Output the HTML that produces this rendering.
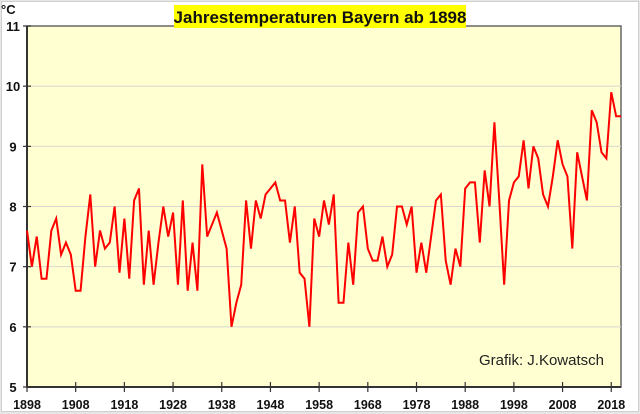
<!DOCTYPE html>
<html><head><meta charset="utf-8"><style>
html,body{margin:0;padding:0;background:#e8e8e8;}
#wrap{position:relative;width:640px;height:414px;overflow:hidden;background:#e6e6e6;}
svg{position:absolute;left:0;top:0;}
text{font-family:"Liberation Sans",sans-serif;}
</style></head><body>
<div id="wrap">
<svg id="chart" width="640" height="414"></svg>
</div>
<script>
const startYear = 1898;
const temps = [7.6,7.0,7.5,6.8,6.8,7.6,7.8,7.2,7.4,7.2,
6.6,6.6,7.5,8.2,7.0,7.6,7.3,7.4,8.0,6.9,
7.8,6.8,8.1,8.3,6.7,7.6,6.7,7.4,8.0,7.5,
7.9,6.7,8.1,6.6,7.4,6.6,8.7,7.5,7.7,7.9,
7.6,7.3,6.0,6.4,6.7,8.1,7.3,8.1,7.8,8.2,
8.3,8.4,8.1,8.1,7.4,8.0,6.9,6.8,6.0,7.8,
7.5,8.1,7.7,8.2,6.4,6.4,7.4,6.7,7.9,8.0,
7.3,7.1,7.1,7.5,7.0,7.2,8.0,8.0,7.7,8.0,
6.9,7.4,6.9,7.5,8.1,8.2,7.1,6.7,7.3,7.0,
8.3,8.4,8.4,7.4,8.6,8.0,9.4,8.1,6.7,8.1,
8.4,8.5,9.1,8.3,9.0,8.8,8.2,8.0,8.5,9.1,
8.7,8.5,7.3,8.9,8.5,8.1,9.6,9.4,8.9,8.8,
9.9,9.5,9.5];
const yTicks = [5,6,7,8,9,10,11];
const xTicks = [1898,1908,1918,1928,1938,1948,1958,1968,1978,1988,1998,2008,2018];

const NS='http://www.w3.org/2000/svg';
const svg=document.getElementById('chart');
const L=27,R=621,T=26,B=387;
const x0=1898, x1=2020;
const xs=y=>L+(y-x0)/(x1-x0)*(R-L);
const ys=v=>B-(v-5)/(11-5)*(B-T);
function mk(tag,attrs,parent){const e=document.createElementNS(NS,tag);for(const k in attrs)e.setAttribute(k,attrs[k]);(parent||svg).appendChild(e);return e;}

const outer=mk('rect',{x:1.5,y:1.5,width:637,height:410,fill:'#ffffff',stroke:'#d0d0d0','stroke-width':1});


const plot=mk('rect',{x:L,y:T,width:R-L,height:B-T,fill:'#ffffd2',stroke:'#666',"stroke-width":1.5});



yTicks.forEach(v=>{
  if(v>5&&v<11){const g=mk('line',{x1:L,x2:R,y1:ys(v),y2:ys(v),stroke:'#d8d8d0','stroke-width':1});
  
  }
  const tk=mk('line',{x1:L-4,x2:L+4,y1:ys(v),y2:ys(v),stroke:'#333','stroke-width':1.2});
  
  
  const t=mk('text',{x:13,y:ys(v)+5,'text-anchor':'middle','font-size':13,'font-weight':'bold',fill:'#111'});
  t.textContent=v;
  
  
});
xTicks.forEach(yr=>{
  const tk=mk('line',{x1:xs(yr),x2:xs(yr),y1:B-5,y2:B+5,stroke:'#333','stroke-width':1.2});
  
  
  const t=mk('text',{x:xs(yr),y:B+22,'text-anchor':'middle','font-size':12.5,'font-weight':'bold',fill:'#111'});
  t.textContent=yr;
  
  
});
const axL=mk('line',{x1:L,x2:L,y1:T,y2:B,stroke:'#333','stroke-width':2});


const axB=mk('line',{x1:L,x2:R,y1:B,y2:B,stroke:'#333','stroke-width':2});



const pts=temps.map((v,i)=>xs(startYear+i).toFixed(2)+','+ys(v).toFixed(2)).join(' ');
const line=mk('polyline',{points:pts,fill:'none',stroke:'#ff0000','stroke-width':2,'stroke-linejoin':'miter'});



const tb=mk('rect',{x:174,y:5,width:292,height:23,fill:'#ffff00'});


const title=mk('text',{x:320,y:23,'text-anchor':'middle','font-size':17,'font-weight':'bold',fill:'#111'});
title.textContent='Jahrestemperaturen Bayern ab 1898';


const unit=mk('text',{x:1,y:14,'font-size':13,'font-weight':'bold',fill:'#111'});
unit.textContent='°C';


const credit=mk('text',{x:604,y:365,'text-anchor':'end','font-size':15,fill:'#222'});
credit.textContent='Grafik: J.Kowatsch';


</script>
</body></html>
